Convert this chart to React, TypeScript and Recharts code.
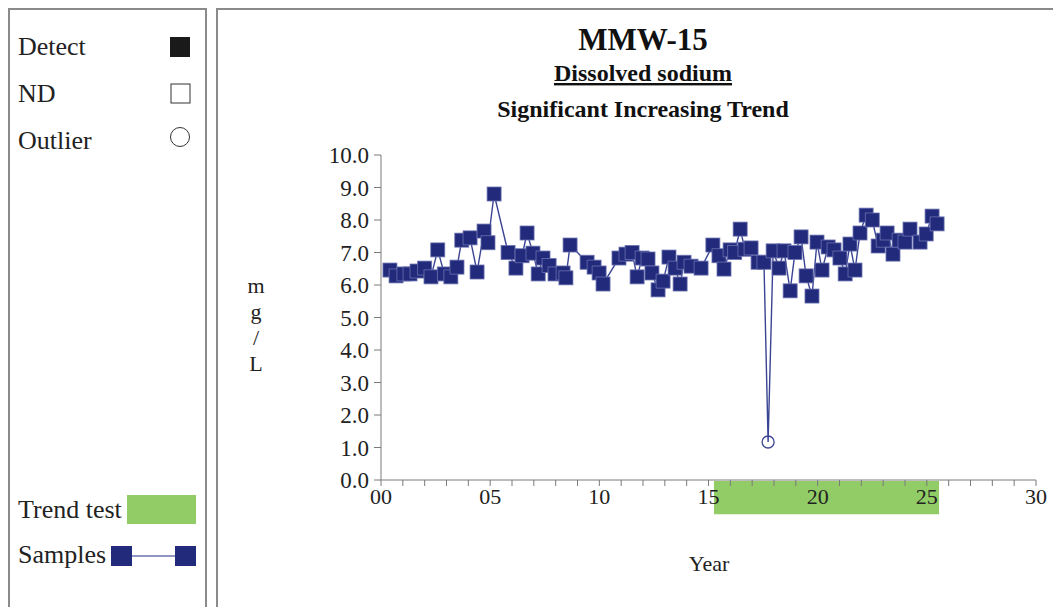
import React from 'react';
import { ComposedChart, Line, XAxis, YAxis, ReferenceArea } from 'recharts';

// sample dates (decimal years since 2000) and dissolved sodium, mg/L
const years = [
  0.41, 0.69, 1.05, 1.33, 1.65, 2.0, 2.29, 2.6, 2.9, 3.2, 3.48, 3.7, 4.08, 4.4, 4.72, 4.9, 5.18,
  5.82, 6.18, 6.46, 6.69, 6.96, 7.2, 7.42, 7.7, 7.97, 8.34, 8.47, 8.66, 9.44, 9.76, 9.99, 10.17,
  10.9, 11.22, 11.5, 11.73, 11.96, 12.23, 12.41, 12.69, 12.92, 13.19, 13.47, 13.7, 13.88, 14.2,
  14.66, 15.2, 15.48, 15.71, 15.99, 16.2, 16.45, 16.67, 16.95, 17.27, 17.54, 17.73, 17.96, 18.23,
  18.46, 18.74, 18.96, 19.24, 19.47, 19.74, 19.97, 20.2, 20.48, 20.75, 21.02, 21.26, 21.48, 21.71,
  21.94, 22.22, 22.5, 22.77, 23.0, 23.18, 23.45, 23.73, 24.0, 24.23, 24.69, 24.97, 25.24, 25.47,
];
const sodium = [
  6.46, 6.28, 6.34, 6.34, 6.43, 6.52, 6.25, 7.08, 6.34, 6.25, 6.55, 7.38, 7.45, 6.4, 7.66, 7.3, 8.8,
  7.0, 6.52, 6.9, 7.6, 6.98, 6.34, 6.83, 6.6, 6.34, 6.37, 6.22, 7.23, 6.7, 6.55, 6.37, 6.03,
  6.83, 6.95, 7.0, 6.25, 6.83, 6.8, 6.37, 5.85, 6.12, 6.86, 6.52, 6.03, 6.7, 6.58,
  6.52, 7.23, 6.9, 6.49, 7.08, 7.0, 7.72, 7.1, 7.14, 6.7, 6.7, 1.17, 7.05, 6.52,
  7.05, 5.82, 7.0, 7.48, 6.28, 5.66, 7.32, 6.46, 7.17, 7.08, 6.83, 6.34, 7.26, 6.46,
  7.6, 8.15, 8.0, 7.2, 7.38, 7.6, 6.95, 7.38, 7.32, 7.72, 7.32, 7.57, 8.12, 7.88,
];
const outlierYears = [17.73];

const trendStart = 15.25;
const trendEnd = 25.56;

const xTicks = Array.from({ length: 31 }, (_, i) => i);
const yTicks = [0, 1, 2, 3, 4, 5, 6, 7, 8, 9, 10];

const data = years.map((year, i) => ({
  year,
  value: sodium[i],
  outlier: outlierYears.includes(year),
}));

const FONT = '"Liberation Serif", "Times New Roman", serif';
const NAVY = '#212a7b';

function SampleDot(props: any) {
  const { cx, cy, payload, index } = props;
  if (cx == null || cy == null) return null;
  if (payload.outlier) {
    return <circle key={index} cx={cx} cy={cy} r={6} fill="none" stroke="#3a4494" strokeWidth={1.3} />;
  }
  return (
    <rect key={index} x={cx - 7} y={cy - 7} width={14} height={14} fill={NAVY} stroke="#6c72b0" strokeWidth={0.8} />
  );
}

export default function App() {
  return (
    <div style={{ position: 'relative', width: 1053, height: 599, overflow: 'hidden', fontFamily: FONT }}>
      {/* panel borders */}
      <div style={{ position: 'absolute', left: 0, top: 0, width: 195, height: 640, border: '2px solid #8a8a8a' }} />
      <div style={{ position: 'absolute', left: 208, top: 0, width: 900, height: 640, border: '2px solid #8a8a8a' }} />

      <div style={{ position: 'absolute', left: 0, top: 0 }}>
        <ComposedChart width={1053} height={599} data={data} margin={{ top: 147, right: 25, bottom: 97, left: 313 }}>
          <ReferenceArea
            x1={trendStart}
            x2={trendEnd}
            y1={-1.05}
            y2={-0.03}
            ifOverflow="visible"
            fill="#92cc66"
            fillOpacity={1}
            stroke="none"
          />
          <XAxis
            type="number"
            dataKey="year"
            domain={[0, 30]}
            ticks={xTicks}
            interval={0}
            height={30}
            tickSize={6}
            tickFormatter={(v: number) => (v % 5 === 0 ? String(v).padStart(2, '0') : '')}
            stroke="#7a7a7a"
            tick={{ fill: '#222', fontSize: 22, fontFamily: FONT }}
          />
          <YAxis
            type="number"
            domain={[0, 10]}
            ticks={yTicks}
            interval={0}
            width={60}
            tickSize={7}
            tickMargin={5}
            tickFormatter={(v: number) => v.toFixed(1)}
            stroke="#7a7a7a"
            tick={{ fill: '#222', fontSize: 23, fontFamily: FONT }}
          />
          <Line
            type="linear"
            dataKey="value"
            stroke="#3a4494"
            strokeWidth={1.4}
            dot={SampleDot}
            activeDot={false}
            isAnimationActive={false}
          />
        </ComposedChart>
      </div>

      <svg width={1053} height={599} style={{ position: 'absolute', left: 0, top: 0, pointerEvents: 'none' }} fontFamily={FONT}>
        {/* titles */}
        <text x={635} y={42} textAnchor="middle" fontSize={31} fontWeight="bold" fill="#111">MMW-15</text>
        <text x={635} y={73} textAnchor="middle" fontSize={24} fontWeight="bold" fill="#111" textDecoration="underline">
          Dissolved sodium
        </text>
        <text x={635} y={109} textAnchor="middle" fontSize={24} fontWeight="bold" fill="#111">Significant Increasing Trend</text>

        {/* axis titles */}
        {['m', 'g', '/', 'L'].map((ch, i) => (
          <text key={ch} x={248} y={285 + i * 26} textAnchor="middle" fontSize={22} fill="#222">{ch}</text>
        ))}
        <text x={701} y={563} textAnchor="middle" fontSize={22} fill="#222">Year</text>

        {/* legend */}
        <text x={10} y={47} fontSize={26} fill="#222">Detect</text>
        <rect x={162} y={29} width={20} height={20} fill="#1a1a1a" />
        <text x={10} y={94} fontSize={26} fill="#222">ND</text>
        <rect x={163} y={76} width={19} height={19} fill="#fff" stroke="#333" strokeWidth={1} />
        <text x={10} y={141} fontSize={26} fill="#222">Outlier</text>
        <circle cx={172} cy={129} r={9.5} fill="#fff" stroke="#333" strokeWidth={1} />

        <text x={10} y={510} fontSize={26} fill="#222">Trend test</text>
        <rect x={119} y={487} width={69} height={29} fill="#92cc66" />
        <text x={10} y={555} fontSize={26} fill="#222">Samples</text>
        <line x1={120} y1={548} x2={172} y2={548} stroke="#6c72b0" strokeWidth={1.5} />
        <rect x={103} y={538} width={21} height={20} fill={NAVY} />
        <rect x={167} y={538} width={21} height={20} fill={NAVY} />
      </svg>
    </div>
  );
}
